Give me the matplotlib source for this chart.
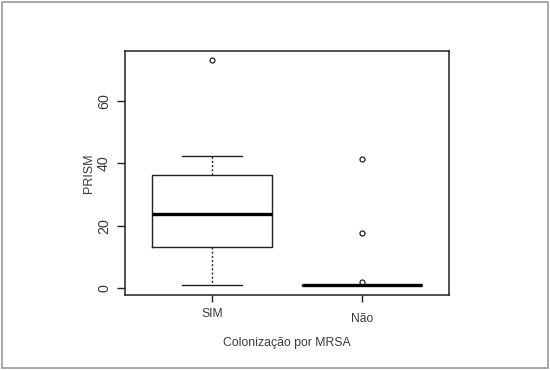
import matplotlib
matplotlib.use("Agg")
import matplotlib.pyplot as plt
from matplotlib.patches import Rectangle

# group names and the five-number summaries
groups = ["SIM", "Não"]
whislo = [0.9, 0.9]
q1 = [13.0, 0.9]
med = [23.6, 0.9]
q3 = [36.3, 0.9]
whishi = [42.4, 0.9]
fliers = [[73.3], [41.3, 17.6, 1.8]]

plt.rcParams['font.family'] = ['Liberation Sans', 'DejaVu Sans']
ink = "#222222"
txt = "#3a3a3a"

fig = plt.figure(figsize=(5.5, 3.7), dpi=100)
fig.patches.append(Rectangle((2 / 550, 2 / 370), 546 / 550, 366 / 370,
                             transform=fig.transFigure, fill=False,
                             edgecolor="#9a9a9a", linewidth=1.2))

ax = fig.add_axes([125 / 550, 1 - 295 / 370, 324 / 550, 244 / 370])

stats = []
for i in range(len(groups)):
    stats.append({"label": groups[i], "whislo": whislo[i], "q1": q1[i],
                  "med": med[i], "q3": q3[i], "whishi": whishi[i],
                  "fliers": fliers[i]})

ax.bxp(stats, positions=[1, 2], widths=0.8,
       boxprops=dict(color=ink, linewidth=1.0),
       medianprops=dict(color="black", linewidth=2.4, solid_capstyle="butt"),
       whiskerprops=dict(color=ink, linewidth=1.0, linestyle=(0, (1.5, 1.5))),
       capprops=dict(color=ink, linewidth=1.0),
       capwidths=0.4,
       flierprops=dict(marker="o", markersize=3.6, markerfacecolor="none",
                       markeredgecolor=ink, markeredgewidth=0.9))

ax.set_xlim(0.42, 2.58)
ax.set_ylim(-2.35, 76.2)

ax.set_yticks([0, 20, 40, 60])
ax.set_yticklabels(["0", "20", "40", "60"], rotation=90, va="center",
                   fontsize=10.3, color=txt)
ax.tick_params(axis="y", length=6, width=1.0, color=ink, pad=4)

ax.set_xticks([1, 2])
ax.set_xticklabels([])
ax.tick_params(axis="x", length=5, width=1.0, color=ink)
# R places the two group labels at slightly different heights
xlab_y = [-0.055, -0.075]
for i in range(len(groups)):
    ax.text(i + 1, xlab_y[i], groups[i], transform=ax.get_xaxis_transform(),
            ha="center", va="top", fontsize=8.7, color=txt)

for s in ax.spines.values():
    s.set_linewidth(1.1)
    s.set_color(ink)

ax.set_xlabel("Colonização por MRSA", fontsize=8.8, color=txt, labelpad=22)
ax.set_ylabel("PRISM", fontsize=9, color=txt, labelpad=1.5)

fig.savefig("out.png", dpi=100)
